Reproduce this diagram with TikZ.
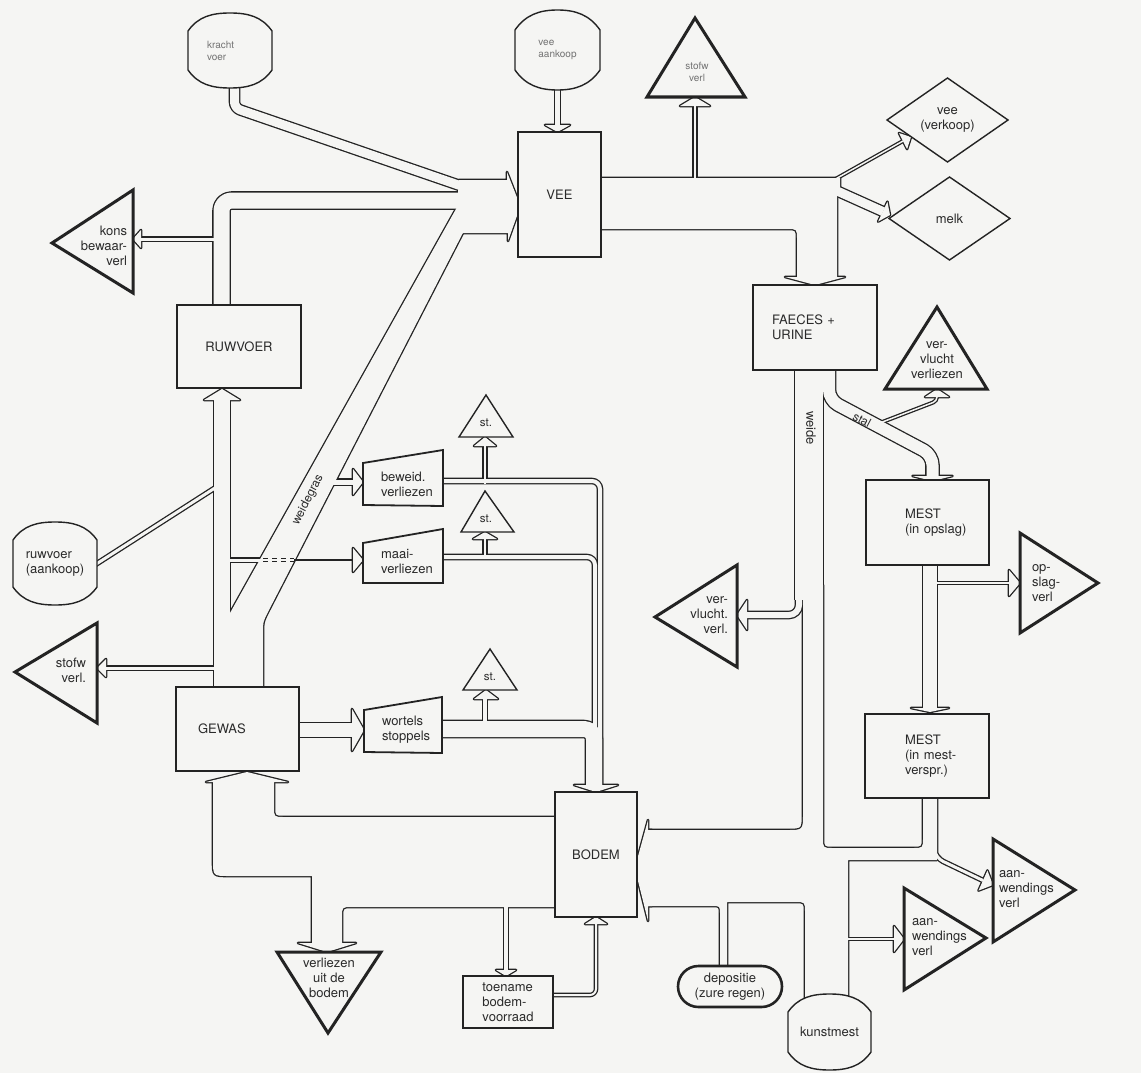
\documentclass[tikz,border=0pt]{standalone}
\usepackage{fontspec}
\setmainfont{TeX Gyre Heros}
\usetikzlibrary{shapes.geometric,shapes.misc}
\definecolor{bg}{RGB}{245,245,243}
\definecolor{ink}{RGB}{35,35,35}
\definecolor{txt}{RGB}{42,42,42}
\pgfdeclarelayer{background}
\pgfdeclarelayer{flowlayer}
\pgfdeclarelayer{overlayer}
\pgfdeclarelayer{nodeback}
\pgfsetlayers{background,flowlayer,overlayer,nodeback,main}

\tikzset{
  lbl/.style={font=\fontsize{13}{15}\selectfont, text=txt, inner sep=0pt, outer sep=0pt},
  tinylbl/.style={font=\fontsize{10}{12}\selectfont, text=black!55, inner sep=0pt, outer sep=0pt},
  stlbl/.style={font=\fontsize{11.5}{13}\selectfont, text=txt, inner sep=0pt},
  box/.style={lbl, draw=ink, line width=1.4pt, fill=bg},
  drum/.style={inner sep=0pt, outer sep=0pt},
  drumline/.style={draw=ink, line width=1.4pt, fill=bg},
  diam/.style={lbl, diamond, draw=ink, line width=1.4pt, fill=bg, align=center},
  bigtri/.style={draw=ink, line width=3pt, fill=bg, line join=miter},
  thintri/.style={draw=ink, line width=1.4pt, fill=bg, line join=miter},
  trap/.style={draw=ink, line width=1.8pt, fill=bg}
}

% hollow arrow head: tip, direction, half width, length
\newcommand\flowtip[4]{\path[blob,shift={#1},rotate=#2] (0,0) -- (-#4,#3) -- (-#4,-#3) -- cycle;}

% drum outline around a named node
\newcommand\drumoutline[2]{\path[drumline] ([yshift=-#2]#1.north west) to[out=55,in=180] (#1.north) to[out=0,in=125] ([yshift=-#2]#1.north east) -- ([yshift=#2]#1.south east) to[out=-125,in=0] (#1.south) to[out=180,in=-55] ([yshift=#2]#1.south west) -- cycle;}

% all material flows; drawn twice (outline pass, then interior pass)
\newcommand\flownet{%
  % krachtvoer -> VEE
  \path[flow=9, rounded corners=6pt] (234.5,84) -- (234.5,108) -- (470,189);
  % vee aankoop -> VEE
  \path[flow=5] (557.5,86) -- (557.5,126);
  \flowtip{(557.5,132)}{-90}{12.5}{7}
  % combined feed entering VEE
  \path[blob] (459,180) -- (507,180) -- (507,172) -- (518,200) -- (518,213) -- (508,241) -- (508,233) -- (455,233) -- cycle;
  % RUWVOER -> VEE
  \path[flow=16, rounded corners=10pt] (221.5,312) -- (221.5,200.5) -- (472,200.5);
  \path[flow=3] (216,239) -- (140,239);
  \flowtip{(133,239)}{180}{9}{8}
  % ruwvoer (aankoop)
  \path[flow=3] (90,568) -- (218,486);
  % GEWAS -> RUWVOER
  \path[flow=16] (222,692) -- (222,399);
  \flowtip{(222,389)}{90}{18}{11}
  % stofwisselingsverliezen of the crop
  \path[flow=3] (216,668) -- (105,668);
  \flowtip{(97,668)}{180}{9}{9}
  % weidegras GEWAS -> VEE
  \path[blob] (230,692) -- (230,613) -- (461,200) -- (480,200) -- (480,225) -- (467,225) -- (268,612) .. controls (263,622) .. (263,632) -- (263,692) -- cycle;
  % beweidingsverliezen
  \path[flow=5] (326,482) -- (354,482);
  \flowtip{(363,482)}{0}{13}{10}
  % maaiverliezen
  \path[flow=3] (226,560) -- (262,560);
  \flowtip{(363,560)}{0}{12}{10}
  % stubble branches
  \path[flow=2.5] (485,484) -- (485,445);
  \flowtip{(485,437)}{90}{11}{9}
  \path[flow=2.5] (485,559) -- (485,538);
  \flowtip{(485,532)}{90}{12}{7}
  % losses -> BODEM
  \path[flow=4, rounded corners=8pt] (440,481) -- (600,481) -- (600,786);
  \path[flow=4, rounded corners=8pt] (440,557) -- (595,557) -- (595,735);
  % GEWAS -> wortels
  \path[flow=14] (296,730) -- (353,730);
  \flowtip{(364,730)}{0}{21}{12}
  % wortels -> BODEM
  \path[flow=16, rounded corners=10pt] (440,729) -- (594,729) -- (594,786);
  \path[flow=4] (485,726) -- (485,698);
  \flowtip{(486,690)}{90}{12}{9}
  \flowtip{(596,792)}{-90}{22}{7}
  % BODEM -> GEWAS / verliezen
  \path[blob] (560,817) -- (284,817) .. controls (274,817) .. (274,807) -- (274,781) -- (213,781) -- (213,860) .. controls (213,876) .. (229,876) -- (312,876) -- (312,944) -- (342,944) -- (342,917) .. controls (342,907) .. (352,907) -- (560,907) -- cycle;
  \flowtip{(247,772)}{90}{41}{10}
  \flowtip{(327,952)}{-90}{29}{9}
  % BODEM <-> toename bodemvoorraad
  \path[flow=4] (506,905) -- (506,971);
  \flowtip{(506,976)}{-90}{10}{6}
  \path[flow=2, rounded corners=6pt] (550,995) -- (596,995) -- (596,923);
  \flowtip{(596,917)}{90}{11}{7}
  % VEE outflow
  \path[blob] (596,178) -- (840,178) -- (840,187) -- (837,193) -- (837,278) -- (797,278) -- (797,239) .. controls (797,229) .. (787,229) -- (596,229) -- cycle;
  \path[flow=2.5] (695,185) -- (695,105);
  \flowtip{(695,97)}{90}{15}{9}
  \path[flow=1.5] (832,181) -- (903,141);
  \flowtip{(911,137)}{27}{9}{9}
  \path[flow=9] (826,186) -- (883,211.6);
  \flowtip{(890,215)}{-25}{11}{8}
  \flowtip{(815,285)}{-90}{30}{8}
  % FAECES + URINE outflows
  \path[flow=28] (809,365) -- (809,600);
  \path[flow=12, rounded corners=10pt] (829,365) -- (829,400) -- (932.5,455) -- (932.5,477);
  \flowtip{(932.5,481)}{-90}{20}{5}
  \path[flow=1.5, rounded corners=4pt] (872,426) -- (937,401) -- (937,396);
  \flowtip{(937,389)}{90}{12}{8}
  \path[flow=6, rounded corners=10pt] (799,580) -- (799,615) -- (746,615);
  \flowtip{(737,615)}{180}{15}{10}
  % weide, mest, kunstmest, depositie -> BODEM
  \path[blob] (648,830) -- (787,830) .. controls (803,830) .. (803,814) -- (803,585) -- (823,585) -- (823,838) .. controls (823,848) .. (833,848) -- (913,848) .. controls (923,848) .. (923,838) -- (923,790) -- (937,790) -- (937,860) -- (848,860) -- (848,1010) -- (805,1010) -- (805,912) .. controls (805,902) .. (795,902) -- (727,902) -- (727,972) -- (720,972) -- (720,914) .. controls (720,906) .. (712,906) -- (648,906) -- cycle;
  \path[blob] (652,830) -- (648,830) -- (648,820) -- (637,860) -- (637,877) -- (648,921) -- (648,906) -- (652,906) -- cycle;
  % MEST (in opslag) -> MEST (in mestverspr.)
  \path[flow=14] (930,560) -- (930,709);
  \flowtip{(930,712)}{-90}{19}{4}
  \path[flow=1.5] (932,583) -- (1010,583);
  \flowtip{(1020,583)}{0}{13}{11}
  % aanwendingsverliezen
  \path[flow=3, rounded corners=8pt] (933,845) -- (936,858) -- (983,880.5);
  \flowtip{(993,885)}{-24}{11}{11}
  \path[flow=1.5] (846,939) -- (895,939);
  \flowtip{(904,939)}{0}{13}{10}
}

\begin{document}
\begin{tikzpicture}[x=1pt,y=-1pt]
\useasboundingbox (0,0) rectangle (1141,1073);
\begin{pgfonlayer}{background}
  \fill[bg] (0,0) rectangle (1141,1073);
\end{pgfonlayer}

% ---- compartments ----
\node[box, minimum width=83pt, minimum height=125pt] (vee) at (559.5,194.5) {VEE};
\node[box, minimum width=124pt, minimum height=83pt] (ruw) at (239,346.5) {RUWVOER};
\node[box, minimum width=123pt, minimum height=84pt, text width=79pt, align=left] (gewas) at (237.5,729) {GEWAS};
\node[box, minimum width=124pt, minimum height=85pt, text width=86pt, align=left] (faeces) at (815,327.5) {FAECES +\\URINE};
\node[box, minimum width=123pt, minimum height=85pt, text width=45pt, align=left] (mestop) at (927.5,522.5) {MEST\\\mbox{(in opslag)}};
\node[box, minimum width=124pt, minimum height=84pt, text width=44pt, align=left] (mestvs) at (927,756) {MEST\\\mbox{(in mest-}\\\mbox{verspr.)}};
\node[box, minimum width=82pt, minimum height=125pt] (bodem) at (596,854.5) {BODEM};
\node[box, minimum width=90pt, minimum height=52pt, align=left] (toename) at (508,1002) {toename\\bodem-\\voorraad};
\node[lbl, rounded rectangle, draw=ink, line width=2.6pt, fill=bg, minimum width=104pt, minimum height=41pt, align=center] (depos) at (730,986.5) {depositie\\(zure regen)};

% ---- outputs ----
\node[diam, minimum width=121pt, minimum height=84pt] (vvk) at (947.5,120) {vee\\(verkoop)};
\node[diam, minimum width=121pt, minimum height=83pt] (melk) at (949.5,218.5) {melk};

% ---- inputs ----
\node[drum, tinylbl, text width=46pt, align=left, minimum width=84pt, minimum height=75pt] (kv) at (230,50.5) {kracht\\voer};
\node[drum, tinylbl, align=left, minimum width=85pt, minimum height=80pt] (vak) at (557.5,50) {vee\\aankoop};
\node[drum, lbl, align=left, minimum width=84pt, minimum height=83pt] (rak) at (55,563.5) {ruwvoer\\(aankoop)};
\node[drum, lbl, minimum width=83pt, minimum height=76pt] (km) at (829.5,1032) {kunstmest};

% ---- losses ----
\node[tinylbl, align=center] (tstof1) at (697,72) {stofw\\verl};
\node[lbl, align=right, anchor=east] (tkons) at (127,246) {kons\\bewaar-\\verl};
\node[lbl, align=center] (tvv1) at (937,360) {ver-\\vlucht\\verliezen};
\node[stlbl] (tst1) at (486,423) {st.};
\node[stlbl] (tst2) at (486,519) {st.};
\node[stlbl] (tst3) at (490,677) {st.};
\node[lbl, align=left, anchor=west] (topsl) at (1032,583) {op-\\slag-\\verl};
\node[lbl, align=right, anchor=east] (tvv2) at (728,615) {ver-\\vlucht.\\verl.};
\node[lbl, align=left, anchor=west] (taan1) at (999,889) {aan-\\wendings\\verl};
\node[lbl, align=left, anchor=west] (taan2) at (912,937) {aan-\\wendings\\verl};
\node[lbl, align=right, anchor=east] (tstof2) at (86,670) {stofw\\verl.};
\node[lbl, align=center] (tverl) at (329,978) {verliezen\\uit de\\bodem};
\node[lbl, align=left, anchor=west] (tbew) at (381,484) {beweid.\\verliezen};
\node[lbl, align=left, anchor=west] (tmaai) at (381,561) {maai-\\verliezen};
\node[lbl, align=left, anchor=west] (twort) at (382,730) {wortels\\stoppels};

\begin{pgfonlayer}{nodeback}
  \drumoutline{kv}{18pt}
  \drumoutline{vak}{20pt}
  \drumoutline{rak}{18pt}
  \drumoutline{km}{18pt}
  \path[bigtri] (695,18) -- (745,97) -- (647,97) -- cycle;
  \path[bigtri] (52,243) -- (133,190) -- (133,293) -- cycle;
  \path[bigtri] (937,307) -- (987,389) -- (885,389) -- cycle;
  \path[thintri] (486,395) -- (513,437) -- (459,437) -- cycle;
  \path[thintri] (485,491) -- (514,532) -- (461,532) -- cycle;
  \path[thintri] (490,649) -- (517,690) -- (463,690) -- cycle;
  \path[bigtri] (1098,583) -- (1020,533) -- (1020,633) -- cycle;
  \path[bigtri] (655,617) -- (737,565) -- (737,667) -- cycle;
  \path[bigtri] (1075,890) -- (993,839) -- (993,942) -- cycle;
  \path[bigtri] (986,938) -- (904,888) -- (904,990) -- cycle;
  \path[bigtri] (15,672) -- (97,623) -- (97,723) -- cycle;
  \path[bigtri] (328,1033) -- (277,952) -- (381,952) -- cycle;
  \path[trap] (363,463) -- (443,450) -- (443,506) -- (363,505) -- cycle;
  \path[trap] (363,543) -- (443,529) -- (443,583) -- (363,583) -- cycle;
  \path[trap] (364,710) -- (442,697) -- (442,753) -- (364,752) -- cycle;
\end{pgfonlayer}

% ---- flows ----
\begin{pgfonlayer}{flowlayer}
  \begin{scope}[flow/.style={draw=ink, line width=#1pt+2.6pt, line join=round},
                blob/.style={draw=ink, line width=2.6pt, line join=round}]
    \flownet
  \end{scope}
  \begin{scope}[flow/.style={draw=bg, line width=#1pt, line join=round},
                blob/.style={fill=bg}]
    \flownet
  \end{scope}
\end{pgfonlayer}

\begin{pgfonlayer}{overlayer}
  % maaiverliezen passing under the weidegras flow
  \draw[ink, line width=1.1pt, dash pattern=on 5pt off 4pt] (263,558.5) -- (294,558.5) (263,561.5) -- (294,561.5);
  \draw[ink, line width=2.2pt] (294,560) -- (353,560);
  \node[lbl, font=\fontsize{12}{14}\selectfont, rotate=62.8] (lwg) at (308,500) {weidegras};
  \node[lbl, rotate=-90] (lwd) at (811,428) {weide};
  \node[lbl, font=\fontsize{12}{14}\selectfont, rotate=-28] (lst) at (862,420) {stal};
\end{pgfonlayer}
\end{tikzpicture}
\end{document}
